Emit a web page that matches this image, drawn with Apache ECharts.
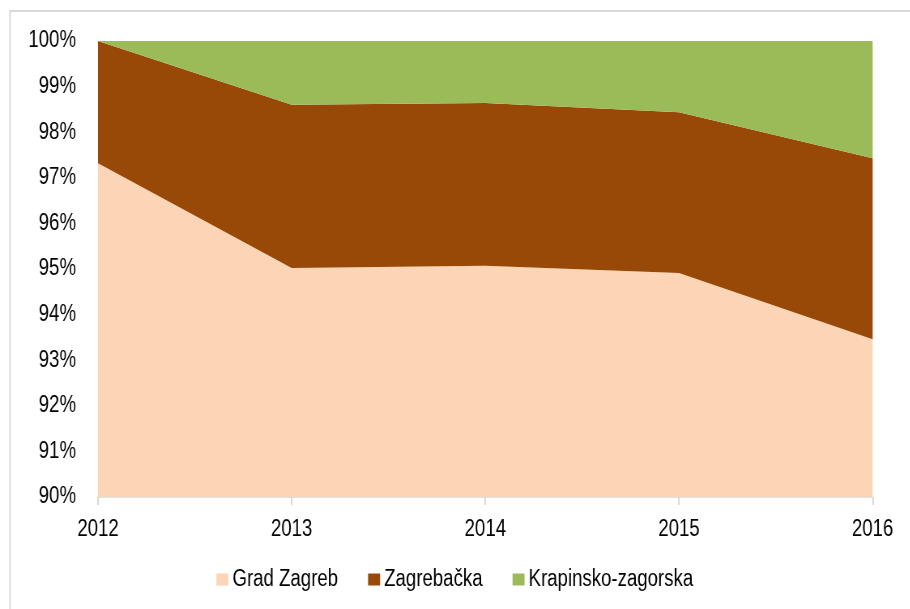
<!DOCTYPE html>
<html>
<head>
<meta charset="utf-8">
<script src="https://cdn.jsdelivr.net/npm/echarts@6/dist/echarts.min.js"></script>
<style>
  html, body { margin: 0; padding: 0; background: #fff; overflow: hidden; }
  #wrap { width: 910px; height: 609px; overflow: hidden; }
  /* The chart is drawn wider and squeezed horizontally so Arial-style text
     gets the narrow proportions of the original report typeface. */
  #chart { width: 1123px; height: 609px; transform: scaleX(0.81); transform-origin: 0 0; }
</style>
</head>
<body>
<div id="wrap"><div id="chart"></div></div>
<script>
// Share of each county, percent (stacked)
const years = ['2012', '2013', '2014', '2015', '2016'];
const gradZagreb = [97.32, 95.02, 95.07, 94.91, 93.46];
const zagrebacka = [2.68, 3.58, 3.57, 3.53, 3.97];
const krapinsko = [0.00, 1.40, 1.36, 1.56, 2.57];

const SX = 0.81; // horizontal squeeze applied to the chart box
const px = v => v / SX;  // horizontal length on screen -> chart units

const FONT = "'Liberation Sans', Arial, sans-serif";

const chart = echarts.init(document.getElementById('chart'));

function areaSeries(name, data, color) {
  return {
    name: name,
    type: 'line',
    stack: 'total',
    data: data,
    symbol: 'none',
    lineStyle: { width: 0 },
    areaStyle: { color: color, opacity: 1 },
    itemStyle: { color: color },
    emphasis: { disabled: true }
  };
}

chart.setOption({
  animation: false,
  textStyle: { fontFamily: FONT },
  graphic: [{
    type: 'rect',
    shape: { x: px(10), y: 11, width: 1300, height: 700 },
    style: { fill: 'none', stroke: '#d9d9d9', lineWidth: 2 },
    silent: true
  }],
  grid: { left: px(98), right: px(37), top: 41, bottom: 112 },
  legend: {
    bottom: 13,
    left: 'center',
    icon: 'rect',
    itemWidth: px(12),
    itemHeight: 12,
    itemGap: px(30),
    textStyle: { fontFamily: FONT, fontSize: 23, color: '#000' },
    data: ['Grad Zagreb', 'Zagrebačka', 'Krapinsko-zagorska']
  },
  xAxis: {
    type: 'category',
    data: years,
    boundaryGap: false,
    axisLine: { lineStyle: { color: '#d9d9d9', width: 1.5 } },
    axisTick: { show: true, length: 8, lineStyle: { color: '#d9d9d9', width: 2 } },
    axisLabel: { fontFamily: FONT, fontSize: 23, color: '#000', margin: 21 },
    splitLine: { show: false }
  },
  yAxis: {
    type: 'value',
    min: 90,
    max: 100,
    interval: 1,
    axisLine: { show: false },
    axisTick: { show: false },
    splitLine: { show: false },
    axisLabel: {
      fontFamily: FONT, fontSize: 23, color: '#000', margin: px(22),
      formatter: v => v + '%'
    }
  },
  series: [
    areaSeries('Grad Zagreb', gradZagreb, '#fbd5b5'),
    areaSeries('Zagrebačka', zagrebacka, '#984807'),
    areaSeries('Krapinsko-zagorska', krapinsko, '#9bbb59')
  ]
});
</script>
</body>
</html>
